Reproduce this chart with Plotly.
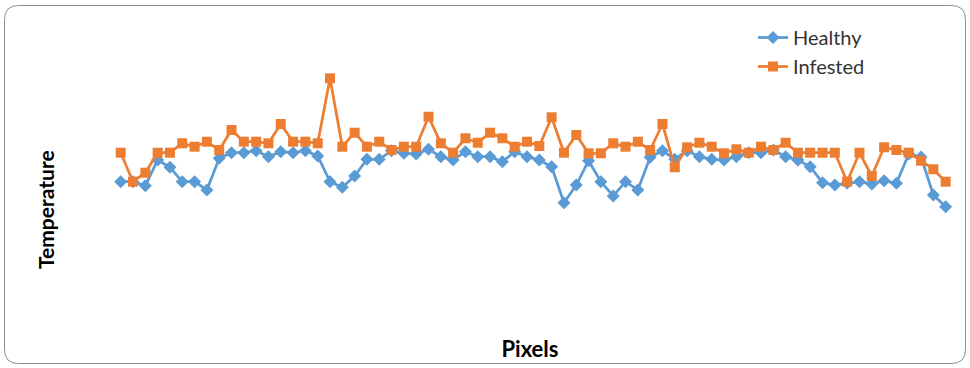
import plotly.graph_objects as go

# Pixel index along the transect
pixels = list(range(1, 69))

# Temperature readings for each pixel
healthy = [14.83, 14.83, 14.43, 17.0, 16.27, 14.83, 14.83, 14.0, 17.17, 17.73,
           17.73, 17.93, 17.33, 17.83, 17.73, 17.93, 17.4, 14.83, 14.27, 15.4,
           17.07, 17.07, 17.93, 17.67, 17.6, 18.07, 17.33, 17.0, 17.83, 17.33,
           17.33, 16.83, 17.83, 17.33, 17.0, 16.33, 12.73, 14.5, 16.93, 14.83,
           13.4, 14.83, 14.0, 17.27, 17.93, 17.07, 17.93, 17.33, 17.07, 17.0,
           17.33, 17.73, 17.73, 18.0, 17.33, 17.0, 16.33, 14.73, 14.5, 14.7,
           14.83, 14.6, 14.93, 14.67, 17.6, 17.3, 13.5, 12.33]

infested = [17.73, 14.83, 15.73, 17.73, 17.73, 18.67, 18.33, 18.83, 18.0, 20.0,
            18.83, 18.83, 18.67, 20.6, 18.83, 18.83, 18.67, 25.17, 18.33, 19.73,
            18.33, 18.83, 18.0, 18.33, 18.33, 21.33, 18.67, 17.73, 19.17, 18.73,
            19.73, 19.17, 18.33, 18.83, 18.4, 21.27, 17.73, 19.5, 17.67, 17.67,
            18.67, 18.33, 18.83, 18.0, 20.6, 16.27, 18.27, 18.73, 18.33, 17.67,
            18.07, 17.73, 18.33, 18.0, 18.73, 17.73, 17.73, 17.73, 17.73, 14.83,
            17.73, 15.4, 18.27, 18.0, 17.73, 16.93, 16.07, 14.83]

BLUE = "#5B9BD5"
ORANGE = "#ED7D31"
FONT = "Lato, Carlito, Liberation Sans, sans-serif"

fig = go.Figure()
fig.add_trace(go.Scatter(
    x=pixels, y=healthy, name="Healthy", mode="lines+markers",
    line=dict(color=BLUE, width=2.75),
    marker=dict(symbol="diamond", size=10, color=BLUE),
))
fig.add_trace(go.Scatter(
    x=pixels, y=infested, name="Infested", mode="lines+markers",
    line=dict(color=ORANGE, width=2.75),
    marker=dict(symbol="square", size=10, color=ORANGE),
))

# Plot area geometry (pixels) used for the frame and label placement
W, H = 970, 368
L, R, T, B = 100, 10, 20, 38
pw, ph = W - L - R, H - T - B


def px(x):
    return (x - L) / pw


def py(y):
    return (H - B - y) / ph


x0, x1, y0, y1, rad = 4.5, 965.5, 5.5, 363.5, 14
frame = (
    f"M {px(x0 + rad)},{py(y0)} L {px(x1 - rad)},{py(y0)} "
    f"Q {px(x1)},{py(y0)} {px(x1)},{py(y0 + rad)} "
    f"L {px(x1)},{py(y1 - rad)} Q {px(x1)},{py(y1)} {px(x1 - rad)},{py(y1)} "
    f"L {px(x0 + rad)},{py(y1)} Q {px(x0)},{py(y1)} {px(x0)},{py(y1 - rad)} "
    f"L {px(x0)},{py(y0 + rad)} Q {px(x0)},{py(y0)} {px(x0 + rad)},{py(y0)} Z"
)

fig.update_layout(
    width=W, height=H,
    margin=dict(l=L, r=R, t=T, b=B),
    paper_bgcolor="white", plot_bgcolor="white",
    font=dict(family=FONT, color="#222222"),
    showlegend=True,
    legend=dict(
        x=px(753), y=py(18), xanchor="left", yanchor="top",
        font=dict(size=20, family=FONT, color="#333333"),
        bgcolor="rgba(0,0,0,0)", tracegroupgap=0,
    ),
    xaxis=dict(
        range=[-0.681, 69.164], showgrid=False, zeroline=False,
        showticklabels=False, showline=False, ticks="",
        title=dict(text="<b>Pixels</b>", font=dict(size=22, family=FONT, color="#000000"),
                   standoff=11),
    ),
    yaxis=dict(
        range=[0, 31], showgrid=False, zeroline=False,
        showticklabels=False, showline=False, ticks="",
    ),
    annotations=[dict(
        text="<b>Temperature</b>", textangle=-90, showarrow=False,
        xref="paper", yref="paper", x=px(45), y=py(210),
        xanchor="center", yanchor="middle",
        font=dict(size=21, family=FONT, color="#000000"),
    )],
    shapes=[dict(type="path", path=frame, xref="paper", yref="paper",
                 line=dict(color="#8c8c8c", width=1), layer="below")],
)

fig.write_html("out.html")
